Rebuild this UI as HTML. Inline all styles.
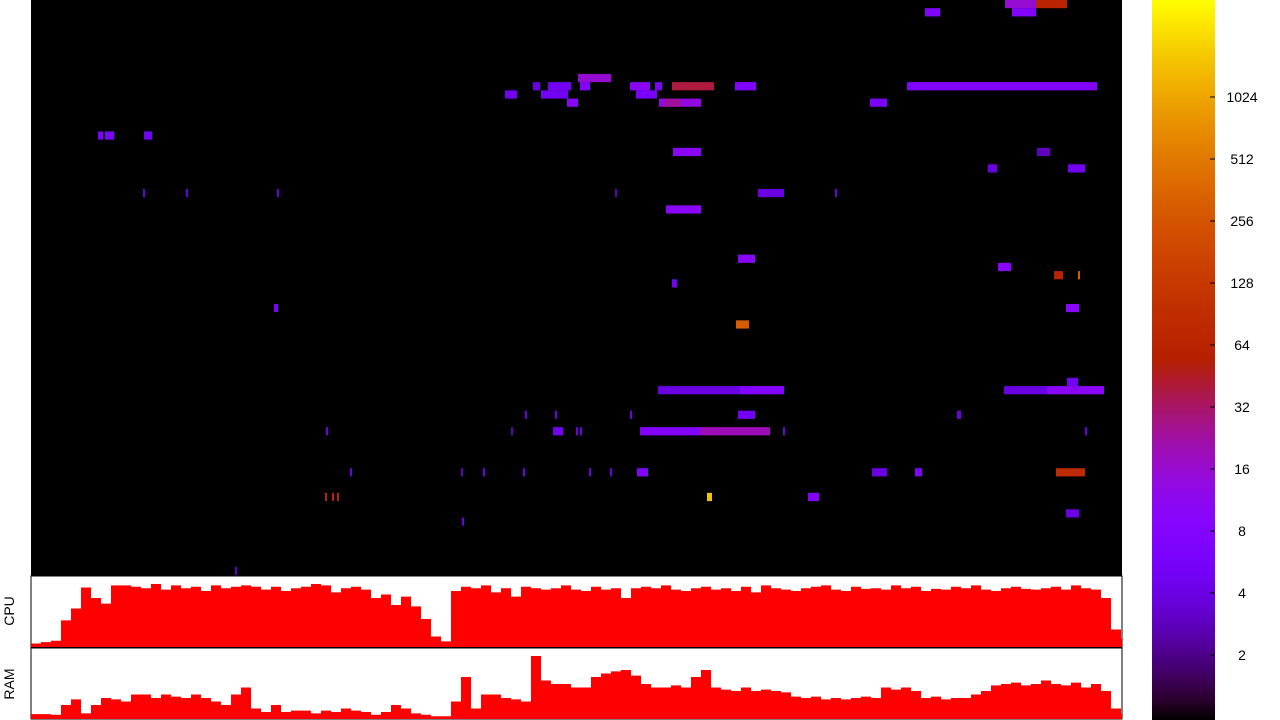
<!DOCTYPE html>
<html><head><meta charset="utf-8"><style>
html,body{margin:0;padding:0;background:#fff;width:1280px;height:720px;overflow:hidden}
svg{display:block}
text{font-family:"Liberation Sans",sans-serif;font-size:14px;fill:#000}
</style></head><body>
<svg id="chart" width="1280" height="720">
<defs><linearGradient id="cbgrad" x1="0" y1="1" x2="0" y2="0"></linearGradient></defs>
<rect x="31" y="0" width="1091" height="576" fill="#000"/>
<g id="cells"></g>
<rect x="31" y="576" width="1091" height="71" fill="#fff" stroke="#000"/>
<rect x="31" y="648" width="1091" height="71" fill="#fff" stroke="#000"/>
<path id="cpuArea" fill="#ff0000"/>
<path id="ramArea" fill="#ff0000"/>
<text transform="translate(14,611) rotate(-90)" text-anchor="middle">CPU</text>
<text transform="translate(14,684) rotate(-90)" text-anchor="middle">RAM</text>
<rect x="1152" y="0" width="63" height="720" fill="url(#cbgrad)"/>
<g id="cbticks"></g>
</svg>
<script>
// heatmap segments: start time, end time, row, value
const segStart=[974,1005,894,981,547,502,517,549,599,624,641,704,876,474,510,605,536,628,634,839,67,74,113,642,1006,1037,957,727,112,155,246,584,804,635,707,967,1023,1047,641,243,1035,705,1036,627,709,973,1016,707,926,494,524,599,609,669,522,480,545,549,295,752,1054,841,884,606,1025,319,430,452,492,558,579,676,777,294,301,306,1035,431,204];
const segEnd  =[1005,1036,909,1005,580,509,540,559,619,631,683,725,1066,486,537,626,547,670,649,856,72,83,121,670,1019,1054,966,753,114,157,248,586,806,670,724,980,1032,1049,646,247,1048,718,1047,709,753,1016,1073,724,930,496,526,601,669,739,532,482,547,551,297,754,1056,856,891,617,1054,321,432,454,494,560,581,681,788,296,303,308,1048,433,206];
const segRow  =[0,0,1,1,9,10,10,10,10,10,10,10,10,11,11,11,12,12,12,12,16,16,16,18,18,20,20,23,23,23,23,23,23,25,31,32,33,33,34,37,37,39,46,47,47,47,47,50,50,50,50,50,52,52,52,52,52,52,52,52,52,57,57,57,57,57,57,57,57,57,57,60,60,60,60,60,62,63,69];
const segVal  =[16,64,8,8,16,4,5,8,10,6,40,8,8,5,5,6,10,14,24,6,6,6,5,10,3,5,4,4,4,4,4,3,4,10,10,10,64,300,5,6,10,300,5,4,8,4,10,5,4,4,4,4,8,20,5,3,4,4,4,4,4,4,8,8,80,4,3,4,4,4,4,1500,8,64,64,64,4,4,3];
// CPU / RAM load (%) sampled every 10 time units
const cpuVals=[5,7,9,38,55,85,70,62,88,88,86,84,90,82,88,84,86,80,88,84,86,88,86,82,86,80,84,86,90,88,78,84,86,82,70,75,60,72,58,40,15,8,80,86,84,88,78,84,72,86,84,82,84,88,82,80,86,82,84,70,84,86,84,88,82,80,84,86,82,84,80,86,78,88,84,82,80,84,86,88,82,80,86,83,84,82,88,84,86,80,83,82,86,84,88,82,80,84,86,83,82,84,86,82,88,84,82,70,25,12];
const ramVals=[7,7,6,20,28,8,20,30,28,25,35,35,30,35,32,30,35,30,25,20,35,45,15,10,20,10,12,12,8,12,10,15,12,10,6,10,20,15,8,6,4,4,25,60,15,35,35,30,28,25,90,55,50,50,45,45,60,65,68,70,62,50,45,45,48,45,60,70,45,42,40,45,40,42,40,38,32,30,32,28,30,28,30,32,30,45,42,45,40,30,32,28,30,30,35,40,48,50,52,48,50,55,50,48,52,45,50,40,15,8];
const tickVals=[2,4,8,16,32,64,128,256,512,1024];

const NS="http://www.w3.org/2000/svg";
const X0=31,W=1091,ROWH=575/70,CB_BOT=717,PX_PER_OCT=62,MAXEXP=717/62;
function xs(t){return X0+t;}
function ys(r){return r*ROWH;}
function colorOf(v){
  let t=Math.log2(Math.max(v,1))/MAXEXP; t=Math.min(1,Math.max(0,t));
  const r=Math.sqrt(t),g=t*t*t,b=Math.max(0,Math.sin(2*Math.PI*t));
  return `rgb(${Math.round(r*255)},${Math.round(g*255)},${Math.round(b*255)})`;
}
const cells=document.getElementById('cells');
for(let i=0;i<segStart.length;i++){
  const r=document.createElementNS(NS,'rect');
  
  
  r.setAttribute('x',xs(segStart[i]));
  r.setAttribute('y',ys(segRow[i]));
  r.setAttribute('width',Math.max(2,xs(segEnd[i])-xs(segStart[i])));
  r.setAttribute('height',ROWH);
  r.setAttribute('fill',colorOf(segVal[i]));
  cells.appendChild(r);
}
function area(vals,top,h){
  const bot=top+h;let d=`M${X0},${bot}`;
  vals.forEach((v,i)=>{const y=bot-v/100*h;d+=` L${xs(i*10)},${y} L${Math.min(xs(i*10+10),X0+W)},${y}`;});
  return d+` L${X0+W},${bot} Z`;
}
document.getElementById('cpuArea').setAttribute('d',area(cpuVals,577,70));
document.getElementById('ramArea').setAttribute('d',area(ramVals,649,70));
const grad=document.getElementById('cbgrad');
for(let k=0;k<=40;k++){
  const t=k/40;const s=document.createElementNS(NS,'stop');
  s.setAttribute('offset',t);s.setAttribute('stop-color',colorOf(Math.pow(2,t*MAXEXP)));
  grad.appendChild(s);
}
const tg=document.getElementById('cbticks');
tickVals.forEach(v=>{
  const y=CB_BOT-PX_PER_OCT*Math.log2(v);
  const l=document.createElementNS(NS,'line');
  
  
  l.setAttribute('x1',1210);l.setAttribute('x2',1215);l.setAttribute('y1',y);l.setAttribute('y2',y);
  l.setAttribute('stroke','#000');
  tg.appendChild(l);
  const t=document.createElementNS(NS,'text');
  
  
  t.setAttribute('x',1242);t.setAttribute('y',y+5);t.setAttribute('text-anchor','middle');
  t.textContent=v;tg.appendChild(t);
});
</script>
</body></html>
